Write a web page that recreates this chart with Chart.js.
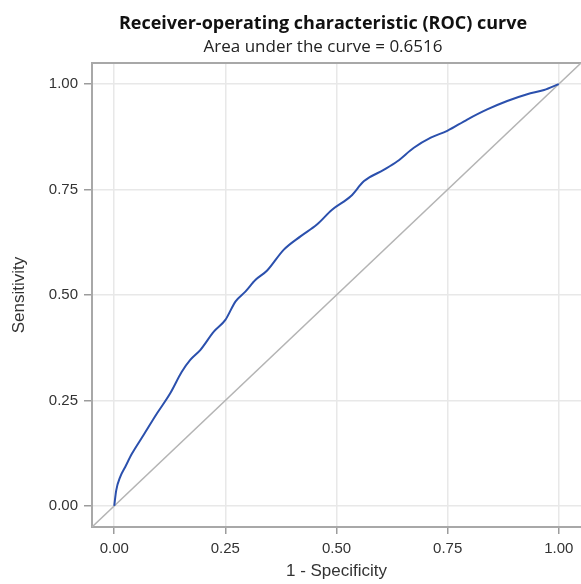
<!DOCTYPE html>
<html>
<head>
<meta charset="utf-8">
<script src="https://cdn.jsdelivr.net/npm/chart.js@4"></script>
<style>
  html, body { margin: 0; padding: 0; background: #fff; }
</style>
</head>
<body>
<canvas id="roc" width="581" height="584"></canvas>
<script>
// ROC curve (1 - specificity, sensitivity)
const fpr = [0, 0.0045, 0.0135, 0.025, 0.040, 0.066, 0.096, 0.126, 0.152, 0.171, 0.194, 0.224, 0.250, 0.273, 0.295, 0.318, 0.344, 0.381, 0.419, 0.456, 0.490, 0.532, 0.562, 0.607, 0.637, 0.674, 0.712, 0.749, 0.794, 0.839, 0.884, 0.929, 0.967, 1.0];
const tpr = [0, 0.037, 0.069, 0.093, 0.124, 0.168, 0.219, 0.267, 0.318, 0.346, 0.370, 0.413, 0.441, 0.485, 0.508, 0.536, 0.558, 0.607, 0.639, 0.667, 0.702, 0.734, 0.770, 0.797, 0.817, 0.849, 0.873, 0.889, 0.916, 0.940, 0.960, 0.976, 0.986, 1.0];

// reference (chance) line, corner to corner of the plot area
const diagX = [-0.05, 1.05];
const diagY = [-0.05, 1.05];

const tickVals = [0, 0.25, 0.5, 0.75, 1];
const axisMin = -0.05;
const axisMax = 1.05;

const titleText = 'Receiver-operating characteristic (ROC) curve';
const subtitleText = 'Area under the curve = 0.6516';
const xTitle = '1 - Specificity';
const yTitle = 'Sensitivity';

const toPoints = (xs, ys) => xs.map((x, i) => ({ x, y: ys[i] }));

// top edge of the plot frame
const frameTop = {
  id: 'frameTop',
  beforeDatasetsDraw(chart) {
    const { ctx, chartArea: a } = chart;
    ctx.save();
    ctx.strokeStyle = '#a8a8a8';
    ctx.lineWidth = 2;
    ctx.beginPath();
    ctx.moveTo(a.left - 1, a.top);
    ctx.lineTo(a.right + 1, a.top);
    ctx.stroke();
    ctx.restore();
  },
};

// the titles sit a bit left of the plot centre: narrow their boxes
const titleShift = {
  id: 'titleShift',
  afterLayout(chart) {
    chart.boxes.filter(b => !chart.scales[b.id]).forEach(b => {
      b.left = 65;
      b.right = chart.width;
      b.width = b.right - b.left;
    });
  },
};

const tickFont = { family: '"Liberation Sans", Arial, sans-serif', size: 15 };
const axisTitleFont = { family: '"Liberation Sans", Arial, sans-serif', size: 17 };

function axis(extra) {
  return Object.assign({
    type: 'linear',
    min: axisMin,
    max: axisMax,
    afterBuildTicks: s => { s.ticks = tickVals.map(v => ({ value: v })); },
    ticks: { font: tickFont, color: '#333', padding: 6, callback: v => Number(v).toFixed(2) },
    border: { color: '#a8a8a8', width: 2 },
  }, extra);
}

new Chart(document.getElementById('roc'), {
  type: 'scatter',
  data: {
    datasets: [
      {
        label: 'ROC',
        data: toPoints(fpr, tpr),
        showLine: true,
        borderColor: '#2b50ad',
        borderWidth: 2,
        pointRadius: 0,
        cubicInterpolationMode: 'monotone',
      },
      {
        label: 'Chance',
        data: toPoints(diagX, diagY),
        showLine: true,
        borderColor: '#b4b4b4',
        borderWidth: 1.5,
        pointRadius: 0,
      },
    ],
  },
  options: {
    responsive: false,
    animation: false,
    devicePixelRatio: 1,
    layout: { padding: { left: 0, right: 0, top: 0, bottom: 0 } },
    plugins: {
      legend: { display: false },
      tooltip: { enabled: false },
      title: {
        display: true,
        text: titleText,
        color: '#111',
        font: { family: '"Open Sans", sans-serif', size: 18, weight: 'bold', lineHeight: 1.2 },
        padding: { top: 13, bottom: 2.5 },
      },
      subtitle: {
        display: true,
        text: subtitleText,
        color: '#222',
        font: { family: '"Open Sans", sans-serif', size: 17, lineHeight: 1.2 },
        padding: { top: 0, bottom: 5.5 },
      },
    },
    scales: {
      x: axis({
        position: 'bottom',
        grid: { color: '#e8e8e8', lineWidth: 1.5, tickColor: '#9c9c9c', tickWidth: 1.5, tickLength: 7 },
        title: { display: true, text: xTitle, color: '#333', font: axisTitleFont, padding: { top: 0, bottom: 2 } },
        afterFit: s => { s.height = 57; },
      }),
      y: axis({
        position: 'left',
        grid: { color: '#e8e8e8', lineWidth: 1.5, tickColor: '#9c9c9c', tickWidth: 1.5, tickLength: 8 },
        title: { display: true, text: yTitle, color: '#333', font: axisTitleFont, padding: { top: 8.8, bottom: 0 } },
        afterFit: s => { s.width = 92; },
      }),
    },
  },
  plugins: [frameTop, titleShift],
});
</script>
</body>
</html>
